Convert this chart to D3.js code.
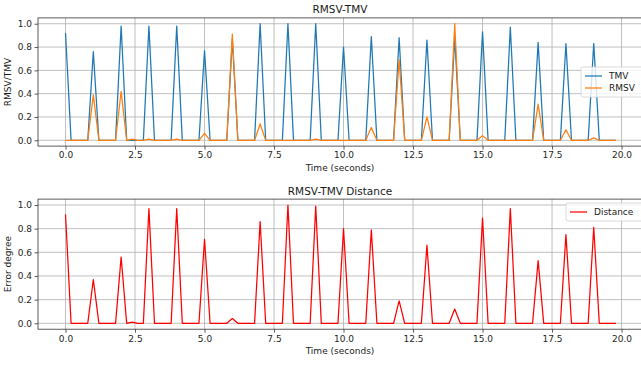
<!DOCTYPE html>
<html>
<head>
<meta charset="utf-8">
<script src="https://cdn.jsdelivr.net/npm/d3@7"></script>
<style>
  body { margin: 0; background: #fff; }
  svg { font-family: "DejaVu Sans", sans-serif; }
  .grid line { stroke: #b0b0b0; stroke-width: 0.8; }
</style>
</head>
<body>
<svg id="chart" width="641" height="365"></svg>
<script>
// sample times (seconds), one every 0.2 s
var time = [
  0.0, 0.2, 0.4, 0.6, 0.8, 1.0, 1.2, 1.4, 1.6, 1.8,
  2.0, 2.2, 2.4, 2.6, 2.8, 3.0, 3.2, 3.4, 3.6, 3.8,
  4.0, 4.2, 4.4, 4.6, 4.8, 5.0, 5.2, 5.4, 5.6, 5.8,
  6.0, 6.2, 6.4, 6.6, 6.8, 7.0, 7.2, 7.4, 7.6, 7.8,
  8.0, 8.2, 8.4, 8.6, 8.8, 9.0, 9.2, 9.4, 9.6, 9.8,
  10.0, 10.2, 10.4, 10.6, 10.8, 11.0, 11.2, 11.4, 11.6, 11.8,
  12.0, 12.2, 12.4, 12.6, 12.8, 13.0, 13.2, 13.4, 13.6, 13.8,
  14.0, 14.2, 14.4, 14.6, 14.8, 15.0, 15.2, 15.4, 15.6, 15.8,
  16.0, 16.2, 16.4, 16.6, 16.8, 17.0, 17.2, 17.4, 17.6, 17.8,
  18.0, 18.2, 18.4, 18.6, 18.8, 19.0, 19.2, 19.4, 19.6, 19.8
];

var tmv = [
  0.92, 0, 0, 0, 0, 0.76, 0, 0, 0, 0,
  0.98, 0, 0, 0, 0, 0.98, 0, 0, 0, 0,
  0.98, 0, 0, 0, 0, 0.77, 0, 0, 0, 0,
  0.87, 0, 0, 0, 0, 1.00, 0, 0, 0, 0,
  1.00, 0, 0, 0, 0, 1.00, 0, 0, 0, 0,
  0.80, 0, 0, 0, 0, 0.89, 0, 0, 0, 0,
  0.88, 0, 0, 0, 0, 0.86, 0, 0, 0, 0,
  0.88, 0, 0, 0, 0, 0.93, 0, 0, 0, 0,
  0.97, 0, 0, 0, 0, 0.84, 0, 0, 0, 0,
  0.83, 0, 0, 0, 0, 0.83, 0, 0, 0, 0
];

var rmsv = [
  0, 0, 0, 0, 0, 0.39, 0, 0, 0, 0,
  0.42, 0, 0.01, 0, 0, 0.01, 0, 0, 0, 0,
  0.01, 0, 0, 0, 0, 0.06, 0, 0, 0, 0,
  0.91, 0, 0, 0, 0, 0.14, 0, 0, 0, 0,
  0, 0, 0, 0, 0, 0.01, 0, 0, 0, 0,
  0, 0, 0, 0, 0, 0.11, 0, 0, 0, 0,
  0.69, 0, 0, 0, 0, 0.20, 0, 0, 0, 0,
  1.00, 0, 0, 0, 0, 0.04, 0, 0, 0, 0,
  0, 0, 0, 0, 0, 0.31, 0, 0, 0, 0,
  0.09, 0, 0, 0, 0, 0.02, 0, 0, 0, 0
];

var distance = [
  0.92, 0, 0, 0, 0, 0.37, 0, 0, 0, 0,
  0.56, 0, 0.01, 0, 0, 0.97, 0, 0, 0, 0,
  0.97, 0, 0, 0, 0, 0.71, 0, 0, 0, 0,
  0.04, 0, 0, 0, 0, 0.86, 0, 0, 0, 0,
  1.00, 0, 0, 0, 0, 0.99, 0, 0, 0, 0,
  0.80, 0, 0, 0, 0, 0.79, 0, 0, 0, 0,
  0.19, 0, 0, 0, 0, 0.66, 0, 0, 0, 0,
  0.12, 0, 0, 0, 0, 0.89, 0, 0, 0, 0,
  0.97, 0, 0, 0, 0, 0.53, 0, 0, 0, 0,
  0.75, 0, 0, 0, 0, 0.81, 0, 0, 0, 0
];

var xTicks = [0, 2.5, 5, 7.5, 10, 12.5, 15, 17.5, 20];
var yTicks = [0, 0.2, 0.4, 0.6, 0.8, 1.0];

var svg = d3.select("#chart");
var fontSize = 9;

// x scale shared by both panels (matplotlib 5% margins)
var x = d3.scaleLinear().domain([-0.99, 20.79]).range([38, 643.5]);

function drawPanel(opt) {
  var y = d3.scaleLinear().domain([-0.05, 1.05]).range([opt.bottom, opt.top]);
  var g = svg.append("g");

  // grid
  var grid = g.append("g").attr("class", "grid");
  grid.selectAll(".gx").data(xTicks).enter().append("line")
    .attr("x1", x).attr("x2", x)
    .attr("y1", opt.top).attr("y2", opt.bottom);
  grid.selectAll(".gy").data(yTicks).enter().append("line")
    .attr("x1", x.range()[0]).attr("x2", x.range()[1])
    .attr("y1", y).attr("y2", y);

  // lines
  opt.series.forEach(function(s) {
    var line = d3.line()
      .x(function(d, i) { return x(time[i]); })
      .y(function(d) { return y(d); });
    g.append("path")
      .datum(s.values)
      .attr("fill", "none")
      .attr("stroke", s.color)
      .attr("stroke-width", 1.25)
      .attr("stroke-linejoin", "round")
      .attr("d", line);
  });

  // axes
  var xAxis = d3.axisBottom(x).tickValues(xTicks)
    .tickFormat(d3.format(".1f")).tickSize(3.5).tickPadding(2.5);
  var gx = g.append("g").attr("transform", "translate(0," + opt.bottom + ")").call(xAxis);
  var yAxis = d3.axisLeft(y).tickValues(yTicks)
    .tickFormat(d3.format(".1f")).tickSize(3.5).tickPadding(2.5);
  var gy = g.append("g").attr("transform", "translate(38,0)").call(yAxis);
  [gx, gy].forEach(function(a) {
    a.select(".domain").remove();
    a.selectAll("text").attr("font-size", fontSize).attr("fill", "#262626")
      .attr("font-family", "DejaVu Sans");
    a.selectAll("line").attr("stroke", "#333").attr("stroke-width", 0.8);
  });

  // spines
  g.append("rect")
    .attr("x", x.range()[0]).attr("y", opt.top)
    .attr("width", x.range()[1] - x.range()[0]).attr("height", opt.bottom - opt.top)
    .attr("fill", "none").attr("stroke", "#333").attr("stroke-width", 0.8);

  // title and labels
  g.append("text").attr("x", 340).attr("y", opt.top - 4.5)
    .attr("text-anchor", "middle").attr("font-size", 10.5).attr("fill", "#1a1a1a")
    .text(opt.title);
  g.append("text").attr("x", 340).attr("y", opt.bottom + 25)
    .attr("text-anchor", "middle").attr("font-size", fontSize).attr("fill", "#1a1a1a")
    .text("Time (seconds)");
  g.append("text")
    .attr("transform", "translate(11," + ((opt.top + opt.bottom) / 2) + ") rotate(-90)")
    .attr("text-anchor", "middle").attr("font-size", fontSize).attr("fill", "#1a1a1a")
    .text(opt.ylabel);

  // legend
  var lg = g.append("g").attr("transform", "translate(" + opt.legend.x + "," + opt.legend.y + ")");
  var rowH = 12;
  lg.append("rect")
    .attr("width", opt.legend.w).attr("height", opt.series.length * rowH + 6)
    .attr("rx", 2).attr("fill", "#fff").attr("fill-opacity", 0.8)
    .attr("stroke", "#d0d0d0").attr("stroke-width", 0.8);
  opt.series.forEach(function(s, i) {
    var yy = 9 + i * rowH;
    lg.append("line").attr("x1", 4).attr("x2", 21).attr("y1", yy).attr("y2", yy)
      .attr("stroke", s.color).attr("stroke-width", 1.25);
    lg.append("text").attr("x", 28).attr("y", yy + 3.2)
      .attr("font-size", fontSize).attr("fill", "#1a1a1a").text(s.name);
  });
}

drawPanel({
  top: 17.9, bottom: 146.1,
  title: "RMSV-TMV", ylabel: "RMSV/TMV",
  legend: { x: 581, y: 67, w: 62 },
  series: [
    { name: "TMV", values: tmv, color: "#1f77b4" },
    { name: "RMSV", values: rmsv, color: "#ff7f0e" }
  ]
});

drawPanel({
  top: 199.1, bottom: 329.2,
  title: "RMSV-TMV Distance", ylabel: "Error degree",
  legend: { x: 566, y: 203, w: 78 },
  series: [
    { name: "Distance", values: distance, color: "#ff0000" }
  ]
});
</script>
</body>
</html>
